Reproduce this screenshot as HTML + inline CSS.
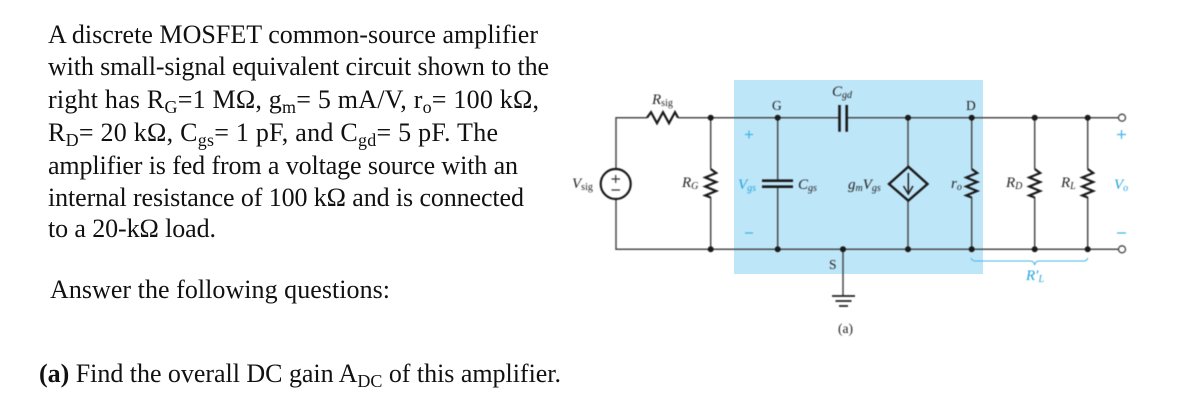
<!DOCTYPE html>
<html><head><meta charset="utf-8">
<style>
html,body{margin:0;padding:0;background:#fff;width:1178px;height:413px;overflow:hidden}
svg{display:block}
.t{font-family:"Liberation Serif",serif;font-size:26px;fill:#111}
.s{font-size:18px}
.w{stroke:#4a4a4a;stroke-width:1.5;fill:none}
.r{stroke:#1a1a1a;stroke-width:2.2;fill:none;stroke-linejoin:miter}
.b{stroke:#1a1a1a;stroke-width:2.6;fill:none}
.l{font-family:"Liberation Serif",serif;font-style:italic;font-size:15px;fill:#222}
.u{font-size:10px}
.c{fill:#1ea3dc}
.n{font-family:"Liberation Serif",serif;font-size:13.500px;fill:#222}
.blur{filter:blur(0.4px)}
</style></head><body>
<svg width="1178" height="413" viewBox="0 0 1178 413" xmlns="http://www.w3.org/2000/svg">
<text class="t" x="48" y="43" textLength="490" lengthAdjust="spacing">A discrete MOSFET common-source amplifier</text>
<text class="t" x="48" y="75" textLength="501" lengthAdjust="spacing">with small-signal equivalent circuit shown to the</text>
<text class="t" x="48" y="108" textLength="491" lengthAdjust="spacing">right has R<tspan class="s" dy="5">G</tspan><tspan dy="-5">=1 MΩ, g</tspan><tspan class="s" dy="5">m</tspan><tspan dy="-5">= 5 mA/V, r</tspan><tspan class="s" dy="5">o</tspan><tspan dy="-5">= 100 kΩ,</tspan></text>
<text class="t" x="48" y="141" textLength="450" lengthAdjust="spacing">R<tspan class="s" dy="5">D</tspan><tspan dy="-5">= 20 kΩ, C</tspan><tspan class="s" dy="5">gs</tspan><tspan dy="-5">= 1 pF, and C</tspan><tspan class="s" dy="5">gd</tspan><tspan dy="-5">= 5 pF. The</tspan></text>
<text class="t" x="48" y="174" textLength="470" lengthAdjust="spacing">amplifier is fed from a voltage source with an</text>
<text class="t" x="48" y="206" textLength="476" lengthAdjust="spacing">internal resistance of 100 kΩ and is connected</text>
<text class="t" x="48" y="237" textLength="168" lengthAdjust="spacing">to a 20-kΩ load.</text>
<text class="t" x="50" y="298" textLength="340" lengthAdjust="spacing">Answer the following questions:</text>
<text class="t" x="39" y="382" textLength="522" lengthAdjust="spacing"><tspan font-weight="bold">(a)</tspan> Find the overall DC gain A<tspan class="s" dy="5">DC</tspan><tspan dy="-5"> of this amplifier.</tspan></text>

<rect x="734" y="80" width="249" height="194" fill="#bee6f9"/>

<g class="blur">
<!-- wires -->
<path class="w" d="M647 117.7H616V169M616 199V249.3H1118.5M678 117.7H839.5M846.7 117.7H1118.5"/>
<path class="w" d="M710.7 117.7V169M710.7 197V249.3M777.7 117.7V180.7M777.7 186.7V249.3M843 249.3V296M908 117.7V167M908 200V249.3M971.7 117.7V169M971.7 197V249.3M1034.7 117.7V169M1034.7 197V249.3M1087.7 117.7V169M1087.7 197V249.3"/>

<!-- resistors -->
<path class="r" d="M647 117.7l4 -5.5 6 11 6 -11 6 11 6 -11 3 5.5"/>
<path class="r" d="M710.7 169l5.5 4 -11 4.5 11 4.5 -11 4.5 11 4.5 -11 4.5 5.5 2"/>
<path class="r" d="M971.7 169l5.5 4 -11 4.5 11 4.5 -11 4.5 11 4.5 -11 4.5 5.5 2"/>
<path class="r" d="M1034.7 169l5.5 4 -11 4.5 11 4.5 -11 4.5 11 4.5 -11 4.5 5.5 2"/>
<path class="r" d="M1087.7 169l5.5 4 -11 4.5 11 4.5 -11 4.5 11 4.5 -11 4.5 5.5 2"/>

<!-- caps -->
<path class="b" d="M839.5 105V131.7M846.7 105V131.7M762 180.7H793M762 186.7H793"/>

<!-- source -->
<circle cx="615.7" cy="184" r="15" fill="#fff" stroke="#1a1a1a" stroke-width="2.2"/>
<path d="M611.500 179H620M615.700 175V183M611.500 190H620" stroke="#333" stroke-width="1.200" fill="none"/>

<!-- dependent source -->
<path d="M908.300 166.700L927.500 184 908.300 200.700 889 184Z" fill="none" stroke="#1a1a1a" stroke-width="2.400"/>
<path d="M908.300 173V193M903.500 186L908.300 194 913 186" fill="none" stroke="#222" stroke-width="1.500"/>

<!-- ground -->
<path d="M832 296H855M835.500 301H851.500M839 306H848" stroke="#222" stroke-width="1.800" fill="none"/>

<!-- nodes -->
<g fill="#1a1a1a">
<circle cx="710.700" cy="117.700" r="3"/><circle cx="777.700" cy="117.700" r="3"/><circle cx="908" cy="117.700" r="3"/><circle cx="971.700" cy="117.700" r="3"/><circle cx="1034.700" cy="117.700" r="3"/><circle cx="1087.700" cy="117.700" r="3"/>
<circle cx="710.700" cy="249.300" r="3"/><circle cx="777.700" cy="249.300" r="3"/><circle cx="843" cy="249.300" r="3"/><circle cx="908" cy="249.300" r="3"/><circle cx="971.700" cy="249.300" r="3"/><circle cx="1034.700" cy="249.300" r="3"/><circle cx="1087.700" cy="249.300" r="3"/>
</g>
<circle cx="1122" cy="117.700" r="3.500" fill="#fff" stroke="#444" stroke-width="1.300"/>
<circle cx="1122" cy="249.300" r="3.500" fill="#fff" stroke="#444" stroke-width="1.300"/>

<!-- brace -->
<path d="M971 258Q972 261 975 261H1030Q1034 261 1034.700 265Q1035.500 261 1039 261H1084Q1087 261 1087.700 258" fill="none" stroke="#45b8e0" stroke-width="1.100"/>

<!-- labels -->
<text class="l" x="652" y="104">R<tspan class="u" font-style="normal" dy="2">sig</tspan></text>
<text class="l" x="832" y="96">C<tspan class="u" dy="2">gd</tspan></text>
<text class="n" x="772" y="110">G</text>
<text class="n" x="966" y="110">D</text>
<text class="n" x="829" y="269">S</text>
<text class="n" x="838" y="333" font-size="12">(a)</text>
<text class="l" x="572" y="188">V<tspan class="u" font-style="normal" dy="2">sig</tspan></text>
<text class="l" x="682" y="187">R<tspan class="u" dy="2">G</tspan></text>
<text class="l c" x="738" y="189">V<tspan class="u" dy="2">gs</tspan></text>
<text class="l" x="798" y="189">C<tspan class="u" dy="2">gs</tspan></text>
<text class="l" x="848" y="189">g<tspan class="u" dy="2">m</tspan><tspan dy="-2">V</tspan><tspan class="u" dy="2">gs</tspan></text>
<text class="l" x="951" y="188">r<tspan class="u" dy="2">o</tspan></text>
<text class="l" x="1006" y="187">R<tspan class="u" dy="2">D</tspan></text>
<text class="l" x="1061" y="187">R<tspan class="u" dy="2">L</tspan></text>
<text class="l c" x="1114" y="189">V<tspan class="u" dy="2">o</tspan></text>
<text class="l c" x="1026" y="280">R′<tspan class="u" dy="2">L</tspan></text>
<path d="M745 134.500H753M749 130.500V138.500M745 233H753M1117 134.500H1126M1121.500 130V139M1117 233H1126" stroke="#3fb4e6" stroke-width="1.200" fill="none"/>
</g>
</svg>
</body></html>
